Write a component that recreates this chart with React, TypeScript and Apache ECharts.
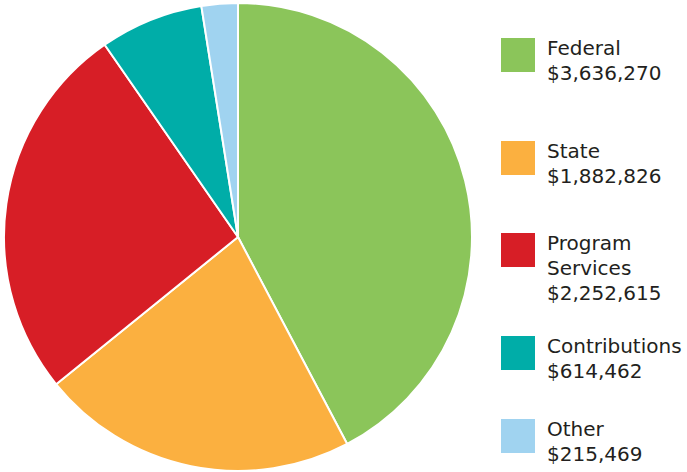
import React, { useEffect, useRef } from "react";
import * as echarts from "echarts";

const categories = ["Federal", "State", "Program\nServices", "Contributions", "Other"];
const values = [3636270, 1882826, 2252615, 614462, 215469];
const colors = ["#8BC55A", "#FBB040", "#D71E26", "#00ADA8", "#A0D3F0"];

const legendTop = [38, 141, 233, 336, 419];

const fmt = (v: number) => "$" + v.toLocaleString("en-US");

export default function App() {
  const ref = useRef<HTMLDivElement>(null);
  useEffect(() => {
    if (!ref.current) return;
    const chart = echarts.init(ref.current, null, { renderer: "svg" });
    const graphic: any[] = [];
    categories.forEach((c, i) => {
      graphic.push({
        type: "rect",
        left: 501,
        top: legendTop[i],
        shape: { width: 34, height: 34 },
        style: { fill: colors[i] },
      });
      graphic.push({
        type: "text",
        x: 547,
        y: legendTop[i] - 3,
        style: {
          text: c + "\n" + fmt(values[i]),
          fill: "#231F20",
          font: "20px 'DejaVu Sans'",
          lineHeight: 25,
          verticalAlign: "top",
          align: "left",
        },
      });
    });
    chart.setOption({
      animation: false,
      backgroundColor: "#ffffff",
      graphic,
      series: [
        {
          type: "pie",
          center: [238, 237],
          radius: [0, 234],
          startAngle: 90,
          clockwise: true,
          label: { show: false },
          labelLine: { show: false },
          itemStyle: { borderColor: "#ffffff", borderWidth: 2 },
          emphasis: { disabled: true },
          data: categories.map((c, i) => ({
            name: c,
            value: values[i],
            itemStyle: { color: colors[i] },
          })),
        },
      ],
    });
    return () => chart.dispose();
  }, []);
  return (
    <div
      ref={ref}
      style={{ position: "fixed", left: 0, top: 0, width: 687, height: 472 }}
    />
  );
}
